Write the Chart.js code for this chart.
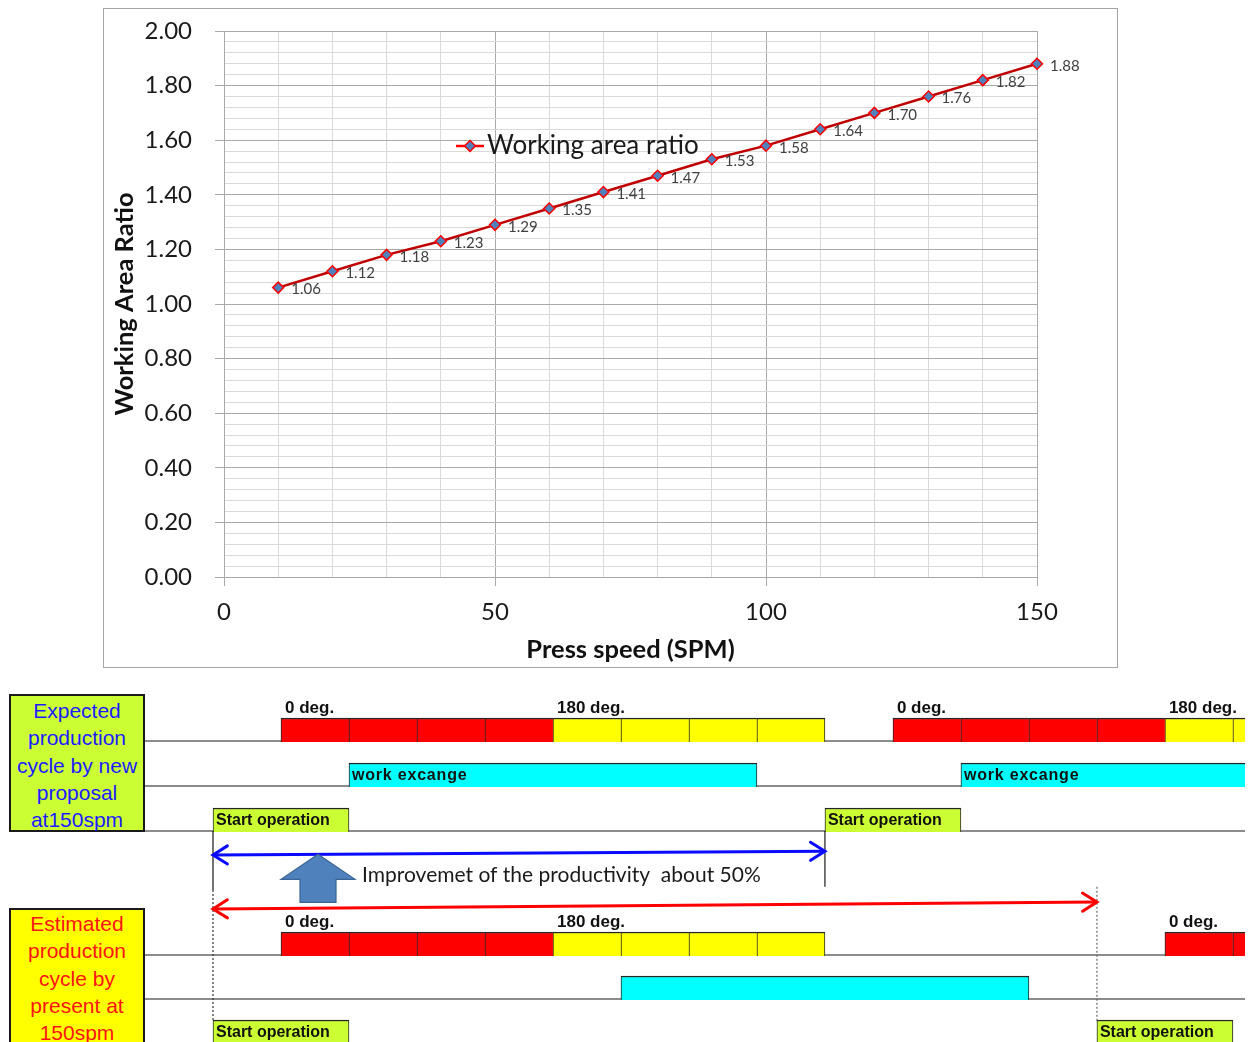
<!DOCTYPE html>
<html>
<head>
<meta charset="utf-8">
<title>Working area ratio and production cycle at 150 spm</title>
<script src="https://cdn.jsdelivr.net/npm/chart.js@4.4.1/dist/chart.umd.min.js"></script>
<style>
  html, body { margin: 0; padding: 0; background: #ffffff; }
  body { width: 1250px; height: 1042px; position: relative; overflow: hidden; }
  #ratioBox { position: absolute; left: 103px; top: 8px; width: 1015px; height: 660px;
              border: 1px solid #a6a6a6; box-sizing: border-box; background: #fff; }
  #ratioChart { position: absolute; left: 0; top: 0; }
  #cycleChart { position: absolute; left: 0; top: 680px; }
  .caseLabel { position: absolute; left: 9px; width: 136px; box-sizing: border-box; z-index: 2;
               border: 2px solid #1a1a1a; font-family: "Liberation Sans", Arial, sans-serif;
               font-size: 21px; line-height: 27.3px; text-align: center; white-space: nowrap; }
  #newLabel { top: 694px; height: 138px; background: #ccff33; color: #1c1cff; padding-top: 1px; }
  #presentLabel { top: 908px; height: 140px; background: #ffff00; color: #ff1414; padding-top: 0; }
</style>
</head>
<body>
<div id="ratioBox"><canvas id="ratioChart" width="1013" height="658"></canvas></div>
<canvas id="cycleChart" width="1250" height="362"></canvas>
<div class="caseLabel" id="newLabel">Expected<br>production<br>cycle by new<br>proposal<br>at150spm</div>
<div class="caseLabel" id="presentLabel">Estimated<br>production<br>cycle by<br>present at<br>150spm</div>

<script>
// ---- Working area ratio versus press speed ----
const pressSpeed = [10, 20, 30, 40, 50, 60, 70, 80, 90, 100, 110, 120, 130, 140, 150];
const workingAreaRatio = [1.06, 1.12, 1.18, 1.23, 1.29, 1.35, 1.41, 1.47, 1.53, 1.58, 1.64, 1.70, 1.76, 1.82, 1.88];
const ratioTickLabels = [0, 0.2, 0.4, 0.6, 0.8, 1.0, 1.2, 1.4, 1.6, 1.8, 2.0];
const speedTickLabels = [0, 50, 100, 150];

// ---- Production cycle at 150 spm, in crank degrees (one cell = 45 deg) ----
// New proposal
const newStrokeRed = [[0, 45], [45, 90], [90, 135], [135, 180], [405, 450], [450, 495], [495, 540], [540, 585]];
const newStrokeYellow = [[180, 225], [225, 270], [270, 315], [315, 360], [585, 630], [630, 675]];
const newWorkExchange = [[45, 315], [450, 720]];
const newStartOperation = [[-45, 45], [360, 450]];
const newAngleMarks = [0, 180, 405, 585];
const newAngleText = ['0 deg.', '180 deg.', '0 deg.', '180 deg.'];
// Present press
const presentStrokeRed = [[0, 45], [45, 90], [90, 135], [135, 180], [585, 630], [630, 675]];
const presentStrokeYellow = [[180, 225], [225, 270], [270, 315], [315, 360]];
const presentWorkExchange = [[225, 495]];
const presentStartOperation = [[-45, 45], [540, 630]];
const presentAngleMarks = [0, 180, 585];
const presentAngleText = ['0 deg.', '180 deg.', '0 deg.'];
// Cycle spans shown by the arrows
const newCycleSpan = [-45, 360];
const presentCycleSpan = [-45, 540];

const FONT = 'Lato, "Open Sans", sans-serif';
Chart.defaults.font.family = FONT;

// ================= Line chart =================
const GRID_MAJOR = '#a9a9a9';
const GRID_MINOR = '#dadada';
const CLEAR = 'rgba(0,0,0,0)';
const isMajorRatio = v => ratioTickLabels.some(t => Math.abs(t - v) < 1e-6);

const pointValueLabels = {
  id: 'pointValueLabels',
  afterDatasetsDraw(chart) {
    const { ctx } = chart;
    const meta = chart.getDatasetMeta(0);
    ctx.save();
    ctx.font = '15px ' + FONT;
    ctx.fillStyle = '#404040';
    ctx.textAlign = 'left';
    ctx.textBaseline = 'middle';
    meta.data.forEach((pt, i) => {
      ctx.fillText(workingAreaRatio[i].toFixed(2), pt.x + 13, pt.y + 2);
    });
    ctx.restore();
  }
};

const seriesKey = {
  id: 'seriesKey',
  afterDatasetsDraw(chart) {
    const { ctx, chartArea } = chart;
    const ds = chart.data.datasets[0];
    const x0 = chartArea.left + 232, y0 = chartArea.top + 115;
    ctx.save();
    ctx.strokeStyle = '#ff0000';
    ctx.lineWidth = 2.5;
    ctx.beginPath(); ctx.moveTo(x0, y0); ctx.lineTo(x0 + 28, y0); ctx.stroke();
    const cx = x0 + 14, r = 5.5;
    ctx.beginPath();
    ctx.moveTo(cx, y0 - r); ctx.lineTo(cx + r, y0); ctx.lineTo(cx, y0 + r); ctx.lineTo(cx - r, y0);
    ctx.closePath();
    ctx.fillStyle = ds.pointBackgroundColor; ctx.fill();
    ctx.strokeStyle = ds.pointBorderColor; ctx.lineWidth = 1.5; ctx.stroke();
    ctx.fillStyle = '#1a1a1a';
    ctx.font = '26px ' + FONT;
    ctx.textAlign = 'left';
    ctx.textBaseline = 'middle';
    ctx.fillText(ds.label, x0 + 31, y0);
    ctx.restore();
  }
};

// keep the plot box fixed: only the outer layout padding decides its edges
const fixScaleBox = size => s => {
  if (s.isHorizontal()) s.height = size; else s.width = size;
  s.paddingTop = 0; s.paddingBottom = 0; s.paddingLeft = 0; s.paddingRight = 0;
};

new Chart(document.getElementById('ratioChart'), {
  type: 'line',
  data: {
    datasets: [{
      label: 'Working area ratio',
      data: pressSpeed.map((s, i) => ({ x: s, y: workingAreaRatio[i] })),
      borderColor: '#c00000',
      borderWidth: 2.5,
      tension: 0,
      clip: false,
      pointStyle: 'rectRot',
      pointRadius: 5.5,
      pointBackgroundColor: '#4f81bd',
      pointBorderColor: '#ff0000',
      pointBorderWidth: 1.5
    }]
  },
  options: {
    responsive: false,
    animation: false,
    devicePixelRatio: 1,
    layout: { padding: { left: 0, top: 22, right: 80, bottom: 0 } },
    plugins: { legend: { display: false }, tooltip: { enabled: false } },
    scales: {
      x: {
        type: 'linear', min: 0, max: 150,
        afterFit: fixScaleBox(90),
        ticks: {
          stepSize: 10, autoSkip: false, maxRotation: 0, padding: 12,
          color: '#1a1a1a', font: { size: 24 },
          callback: v => speedTickLabels.includes(v) ? String(v) : ''
        },
        grid: {
          color: c => (c.tick && c.tick.value % 50 === 0) ? GRID_MAJOR : GRID_MINOR,
          tickColor: c => (c.tick && speedTickLabels.includes(c.tick.value)) ? GRID_MAJOR : CLEAR,
          tickLength: 9, lineWidth: 1
        },
        border: { color: GRID_MAJOR },
        title: {
          display: true, text: 'Press speed (SPM)', color: '#111',
          font: { size: 25.5, weight: 'bold' }, padding: { top: 0, bottom: 2 }
        }
      },
      y: {
        type: 'linear', min: 0, max: 2,
        afterFit: fixScaleBox(120),
        ticks: {
          stepSize: 0.04, autoSkip: false, padding: 23,
          color: '#1a1a1a', font: { size: 24 },
          callback: v => isMajorRatio(v) ? v.toFixed(2) : ''
        },
        grid: {
          color: c => (c.tick && isMajorRatio(c.tick.value)) ? GRID_MAJOR : GRID_MINOR,
          tickColor: c => (c.tick && isMajorRatio(c.tick.value)) ? GRID_MAJOR : CLEAR,
          tickLength: 9, lineWidth: 1
        },
        border: { color: GRID_MAJOR },
        title: {
          display: true, text: 'Working Area Ratio', color: '#111',
          font: { size: 25.5, weight: 'bold' }, padding: { top: 5, bottom: 0 }
        }
      }
    }
  },
  plugins: [pointValueLabels, seriesKey]
});

// ================= Timing diagram =================
// Lane levels on the vertical scale (one unit = one lane spacing).
const LANE_PX = 45;
const lanePos = {
  newAngle: 0, newWork: 1, newStart: 2,
  blueArrow: [2.533, 2.449], redArrow: [3.733, 3.578],
  presentAngle: 4.756, presentWork: 5.733, presentStart: 6.711
};
const BLOCK_RISE = 11 / LANE_PX;      // bar centre sits above its lane line
const BLOCK_TOP = 23 / LANE_PX;       // top of a bar above its lane line
const Y_MIN = -61 / LANE_PX;
const Y_MAX = Y_MIN + 362 / LANE_PX;
const X_MIN = -90, X_MAX = 638;
const markerBottom = lanePos.presentStart - 22 / LANE_PX;

function blockSet(spans, laneY, fill, laneSpans, text, spacing) {
  return {
    type: 'bar', indexAxis: 'y', grouped: false, barThickness: 24, order: 1,
    data: spans.map(s => ({ x: [s[0], s[1]], y: laneY - BLOCK_RISE })),
    spans: spans,
    backgroundColor: fill,
    borderColor: '#262626',
    borderSkipped: false,
    borderWidth: c => {
      const s = spans[c.dataIndex];
      const joined = !!s && laneSpans.some(o => o[0] === s[1]);
      return { top: 1.5, left: 1, right: joined ? 0 : 1, bottom: 0 };
    },
    blockText: text || null,
    textSpacing: spacing || '0px'
  };
}

function laneLine(laneY) {
  return {
    type: 'line', order: 3,
    data: [{ x: X_MIN, y: laneY }, { x: X_MAX, y: laneY }],
    borderColor: '#1a1a1a', borderWidth: 1.2, pointRadius: 0
  };
}

function marker(deg, y0, y1, color, dash) {
  return {
    type: 'line', order: 0,
    data: [{ x: deg, y: y0 }, { x: deg, y: y1 }],
    borderColor: color, borderWidth: 1.2, borderDash: dash, pointRadius: 0
  };
}

function spanArrow(span, ys, color) {
  return {
    type: 'line', order: 0, arrowHeads: true,
    data: [{ x: span[0], y: ys[0] }, { x: span[1], y: ys[1] }],
    borderColor: color, borderWidth: 3, pointRadius: 0
  };
}

const newAngleAll = newStrokeRed.concat(newStrokeYellow);
const presentAngleAll = presentStrokeRed.concat(presentStrokeYellow);

const cycleDatasets = [
  laneLine(lanePos.newAngle), laneLine(lanePos.newWork), laneLine(lanePos.newStart),
  laneLine(lanePos.presentAngle), laneLine(lanePos.presentWork), laneLine(lanePos.presentStart),
  blockSet(newStrokeRed, lanePos.newAngle, '#ff0000', newAngleAll),
  blockSet(newStrokeYellow, lanePos.newAngle, '#ffff00', newAngleAll),
  blockSet(newWorkExchange, lanePos.newWork, '#00ffff', newWorkExchange, 'work excange', '0.8px'),
  blockSet(newStartOperation, lanePos.newStart, '#ccff33', newStartOperation, 'Start operation'),
  blockSet(presentStrokeRed, lanePos.presentAngle, '#ff0000', presentAngleAll),
  blockSet(presentStrokeYellow, lanePos.presentAngle, '#ffff00', presentAngleAll),
  blockSet(presentWorkExchange, lanePos.presentWork, '#00ffff', presentWorkExchange),
  blockSet(presentStartOperation, lanePos.presentStart, '#ccff33', presentStartOperation, 'Start operation'),
  marker(newStartOperation[0][0], lanePos.newStart, 3.31, '#1a1a1a', []),
  marker(newStartOperation[0][0], 3.31, markerBottom, '#333333', [2, 2]),
  marker(newStartOperation[1][0], lanePos.newStart, 3.24, '#1a1a1a', []),
  marker(presentStartOperation[1][0], 3.24, markerBottom, '#6a6a6a', [2, 2]),
  spanArrow(newCycleSpan, lanePos.blueArrow, '#0a0aff'),
  spanArrow(presentCycleSpan, lanePos.redArrow, '#ff0000')
];

function drawHead(ctx, tip, from, color, width) {
  const ang = Math.atan2(tip.y - from.y, tip.x - from.x);
  const len = 17, spread = 0.56;
  ctx.save();
  ctx.strokeStyle = color;
  ctx.lineWidth = width;
  ctx.lineCap = 'round';
  ctx.lineJoin = 'miter';
  ctx.beginPath();
  ctx.moveTo(tip.x + len * Math.cos(ang + Math.PI - spread), tip.y + len * Math.sin(ang + Math.PI - spread));
  ctx.lineTo(tip.x, tip.y);
  ctx.lineTo(tip.x + len * Math.cos(ang + Math.PI + spread), tip.y + len * Math.sin(ang + Math.PI + spread));
  ctx.stroke();
  ctx.restore();
}

const UP_ARROW_DEG = 24.5;

const cycleAnnotations = {
  id: 'cycleAnnotations',
  afterDatasetsDraw(chart) {
    const { ctx, scales: { x, y } } = chart;
    ctx.save();

    // arrow heads on the cycle spans
    chart.data.datasets.forEach((ds, i) => {
      if (!ds.arrowHeads) return;
      const pts = chart.getDatasetMeta(i).data;
      const a = pts[0], b = pts[pts.length - 1];
      drawHead(ctx, a, b, ds.borderColor, ds.borderWidth);
      drawHead(ctx, b, a, ds.borderColor, ds.borderWidth);
    });

    // block arrow pointing at the shorter cycle
    const tx = x.getPixelForValue(UP_ARROW_DEG);
    const t = (UP_ARROW_DEG - newCycleSpan[0]) / (newCycleSpan[1] - newCycleSpan[0]);
    const ty = y.getPixelForValue(lanePos.blueArrow[0] + t * (lanePos.blueArrow[1] - lanePos.blueArrow[0]));
    ctx.beginPath();
    ctx.moveTo(tx, ty);
    ctx.lineTo(tx + 37, ty + 25);
    ctx.lineTo(tx + 18, ty + 25);
    ctx.lineTo(tx + 18, ty + 48);
    ctx.lineTo(tx - 18, ty + 48);
    ctx.lineTo(tx - 18, ty + 25);
    ctx.lineTo(tx - 37, ty + 25);
    ctx.closePath();
    ctx.fillStyle = '#4f81bd';
    ctx.fill();
    ctx.strokeStyle = '#3b6594';
    ctx.lineWidth = 1.2;
    ctx.stroke();

    ctx.fillStyle = '#1a1a1a';
    ctx.font = '21px ' + FONT;
    ctx.textAlign = 'left';
    ctx.textBaseline = 'middle';
    ctx.fillText('Improvemet of the productivity  about 50%', tx + 44, ty + 21);

    // crank angle marks above the stroke cells
    ctx.font = 'bold 17px "Liberation Sans", Arial, sans-serif';
    ctx.fillStyle = '#111';
    const marks = [
      [newAngleMarks, newAngleText, lanePos.newAngle],
      [presentAngleMarks, presentAngleText, lanePos.presentAngle]
    ];
    marks.forEach(([degs, texts, laneY]) => {
      const py = y.getPixelForValue(laneY - BLOCK_TOP) - 10;
      degs.forEach((d, i) => ctx.fillText(texts[i], x.getPixelForValue(d) + 4, py));
    });

    // captions inside blocks
    ctx.font = 'bold 16px "Liberation Sans", Arial, sans-serif';
    chart.data.datasets.forEach((ds, i) => {
      if (!ds.blockText) return;
      if ('letterSpacing' in ctx) ctx.letterSpacing = ds.textSpacing;
      ds.spans.forEach((s, j) => {
        const py = y.getPixelForValue(ds.data[j].y) + 1;
        ctx.fillText(ds.blockText, x.getPixelForValue(s[0]) + 3, py);
      });
    });
    ctx.restore();
  }
};

new Chart(document.getElementById('cycleChart'), {
  type: 'bar',
  data: { datasets: cycleDatasets },
  options: {
    responsive: false,
    animation: false,
    devicePixelRatio: 1,
    layout: { padding: { left: 145, right: 5, top: 0, bottom: 0 } },
    plugins: { legend: { display: false }, tooltip: { enabled: false } },
    scales: {
      x: { type: 'linear', min: X_MIN, max: X_MAX, offset: false, display: false, grid: { offset: false } },
      y: { type: 'linear', min: Y_MIN, max: Y_MAX, reverse: true, offset: false, display: false, grid: { offset: false } }
    }
  },
  plugins: [cycleAnnotations]
});
</script>
</body>
</html>
